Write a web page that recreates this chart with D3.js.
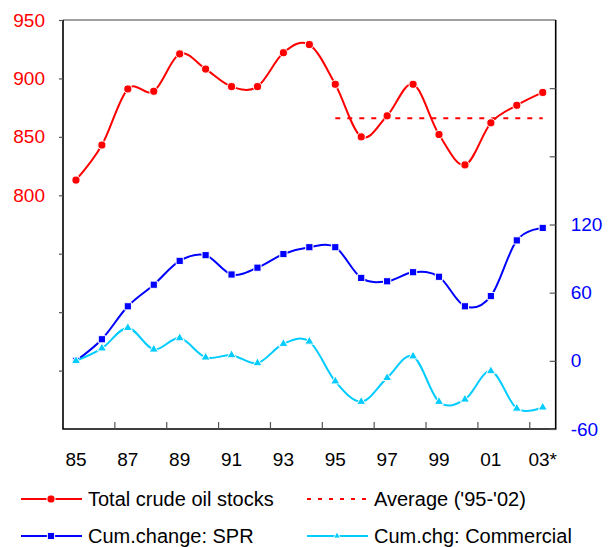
<!DOCTYPE html>
<html>
<head>
<meta charset="utf-8">
<script src="https://cdn.jsdelivr.net/npm/d3@7"></script>
<style>
  body { margin: 0; background: #fff; }
  svg text { font-family: "Liberation Sans", Arial, sans-serif; }
</style>
</head>
<body>
<div id="chart"></div>
<script>
// categories (years), last one is an estimate
var years = ['85', '86', '87', '88', '89', '90', '91', '92', '93', '94',
  '95', '96', '97', '98', '99', '00', '01', '02', '03*'];

// left axis: total crude oil stocks (mb)
var totalStocks = [813, 843, 891, 889, 921, 908, 893, 893, 922, 929,
  895, 850, 868, 895, 852, 826, 862, 877, 888];

// average '95-'02, drawn from 95 to 03
var avgValue = 866;
var avgFrom = '95';
var avgTo = '03*';

// right axis: cumulative changes
var cumSPR = [0, 19, 48, 67, 88, 93, 76, 82, 94, 100,
  100, 73, 70, 78, 74, 48, 57, 106, 117];
var cumCommercial = [0, 11, 29, 10, 20, 3, 5, -2, 15, 17,
  -18, -36, -15, 4, -36, -34, -9, -42, -41];

var leftTicks = [650, 700, 750, 800, 850, 900, 950];
var leftLabelled = [800, 850, 900, 950];
var rightTicks = [-60, 0, 60, 120, 180, 240];
var rightLabelled = [-60, 0, 60, 120];

var W = 610, H = 547;
var plot = { left: 63, right: 555.7, top: 20, bottom: 429 };

var RED = '#ff0000', BLUE = '#0000ff', CYAN = '#00ccff';

var svg = d3.select('#chart').append('svg')
  .attr('width', W)
  .attr('height', H);

var xScale = d3.scaleBand()
  .domain(years)
  .range([plot.left, plot.right]);

var x = function (d) {
  return xScale(d) + xScale.bandwidth() / 2;
};

var yLeft = d3.scaleLinear()
  .domain([600, 950])
  .range([plot.bottom, plot.top]);

var yRight = d3.scaleLinear()
  .domain([-60, 300])
  .range([plot.bottom, plot.top]);

// frame: grey top, black on the other sides
svg.append('line')
  .attr('x1', plot.left).attr('x2', plot.right)
  .attr('y1', plot.top).attr('y2', plot.top)
  .attr('stroke', '#808080').attr('stroke-width', 1.5);

svg.append('path')
  .attr('d', 'M' + plot.left + ',' + plot.top + 'V' + plot.bottom + 'H' + plot.right + 'V' + plot.top)
  .attr('fill', 'none')
  .attr('stroke', '#000')
  .attr('stroke-width', 1.6);

// left axis
var leftAxis = svg.append('g')
  .attr('transform', 'translate(' + plot.left + ',0)')
  .call(d3.axisLeft(yLeft)
    .tickValues(leftTicks)
    .tickSize(4)
    .tickPadding(14)
    .tickFormat(function (d) { return leftLabelled.indexOf(d) >= 0 ? d : ''; }));
leftAxis.select('.domain').remove();
leftAxis.selectAll('.tick line').attr('stroke', '#555').attr('stroke-width', 1.2);
leftAxis.selectAll('.tick text')
  .attr('fill', RED)
  .style('font-size', '19px');

// right axis, ticks pointing inwards
var rightAxis = svg.append('g')
  .attr('transform', 'translate(' + plot.right + ',0)')
  .call(d3.axisRight(yRight)
    .tickValues(rightTicks)
    .tickSize(-6)
    .tickPadding(15)
    .tickFormat(function (d) { return rightLabelled.indexOf(d) >= 0 ? d : ''; }));
rightAxis.select('.domain').remove();
rightAxis.selectAll('.tick line').attr('stroke', '#555').attr('stroke-width', 1.2);
rightAxis.selectAll('.tick text')
  .attr('fill', BLUE)
  .style('font-size', '19px');

// bottom: tick marks on every second band boundary, labels on odd years
var boundaryYears = years.filter(function (d, i) { return i > 0 && i % 2 === 0; });
svg.append('g')
  .selectAll('line.x-tick')
  .data(boundaryYears)
  .enter()
  .append('line')
  .attr('class', 'x-tick')
  .attr('x1', function (d) { return xScale(d); })
  .attr('x2', function (d) { return xScale(d); })
  .attr('y1', plot.bottom)
  .attr('y2', plot.bottom - 7)
  .attr('stroke', '#555')
  .attr('stroke-width', 1.2);

svg.append('g')
  .selectAll('text.x-label')
  .data(years.filter(function (d, i) { return i % 2 === 0; }))
  .enter()
  .append('text')
  .attr('class', 'x-label')
  .attr('x', x)
  .attr('y', 466)
  .attr('text-anchor', 'middle')
  .style('font-size', '19px')
  .attr('fill', '#000')
  .text(function (d) { return d; });

// average line
svg.append('line')
  .attr('x1', x(avgFrom))
  .attr('x2', x(avgTo))
  .attr('y1', yLeft(avgValue))
  .attr('y2', yLeft(avgValue))
  .attr('stroke', RED)
  .attr('stroke-width', 2)
  .attr('stroke-dasharray', '5,7');

// method to draw one smoothed series with its markers
var drawSeries = function (values, yScale, color, marker) {
  var line = d3.line()
    .x(function (d, i) { return x(years[i]); })
    .y(function (d) { return yScale(d); })
    .curve(d3.curveCardinal.tension(0));

  svg.append('path')
    .datum(values)
    .attr('d', line)
    .attr('fill', 'none')
    .attr('stroke', color)
    .attr('stroke-width', 2);

  svg.append('g')
    .selectAll('path.marker')
    .data(values)
    .enter()
    .append('path')
    .attr('class', 'marker')
    .attr('transform', function (d, i) {
      return 'translate(' + x(years[i]) + ',' + yScale(d) + ')';
    })
    .attr('d', marker)
    .attr('fill', color)
    .attr('stroke', '#fff')
    .attr('stroke-width', 1);
};

var dot = d3.symbol().type(d3.symbolCircle).size(52)();
var square = d3.symbol().type(d3.symbolSquare).size(52)();
var tri = d3.symbol().type(d3.symbolTriangle).size(36)();

drawSeries(totalStocks, yLeft, RED, dot);
drawSeries(cumSPR, yRight, BLUE, square);
drawSeries(cumCommercial, yRight, CYAN, tri);

// legend
var legendItems = [
  { label: 'Total crude oil stocks', color: RED, marker: dot, dash: null, x: 21, y: 499 },
  { label: "Average ('95-'02)", color: RED, marker: null, dash: '4,7', x: 307, y: 499 },
  { label: 'Cum.change: SPR', color: BLUE, marker: square, dash: null, x: 21, y: 536 },
  { label: 'Cum.chg: Commercial', color: CYAN, marker: d3.symbol().type(d3.symbolTriangle).size(22)(), dash: null, x: 307, y: 536 }
];

var legend = svg.append('g')
  .selectAll('g.legend-item')
  .data(legendItems)
  .enter()
  .append('g')
  .attr('class', 'legend-item')
  .attr('transform', function (d) { return 'translate(' + d.x + ',' + d.y + ')'; });

legend.append('line')
  .attr('x1', 0).attr('x2', 61)
  .attr('y1', 0).attr('y2', 0)
  .attr('stroke', function (d) { return d.color; })
  .attr('stroke-width', 2)
  .attr('stroke-dasharray', function (d) { return d.dash; });

legend.filter(function (d) { return d.marker; })
  .append('path')
  .attr('transform', 'translate(30,0)')
  .attr('d', function (d) { return d.marker; })
  .attr('fill', function (d) { return d.color; })
  .attr('stroke', '#fff')
  .attr('stroke-width', 1);

legend.append('text')
  .attr('x', 67)
  .attr('y', 7)
  .style('font-size', '20px')
  .attr('fill', '#000')
  .text(function (d) { return d.label; });
</script>
</body>
</html>
